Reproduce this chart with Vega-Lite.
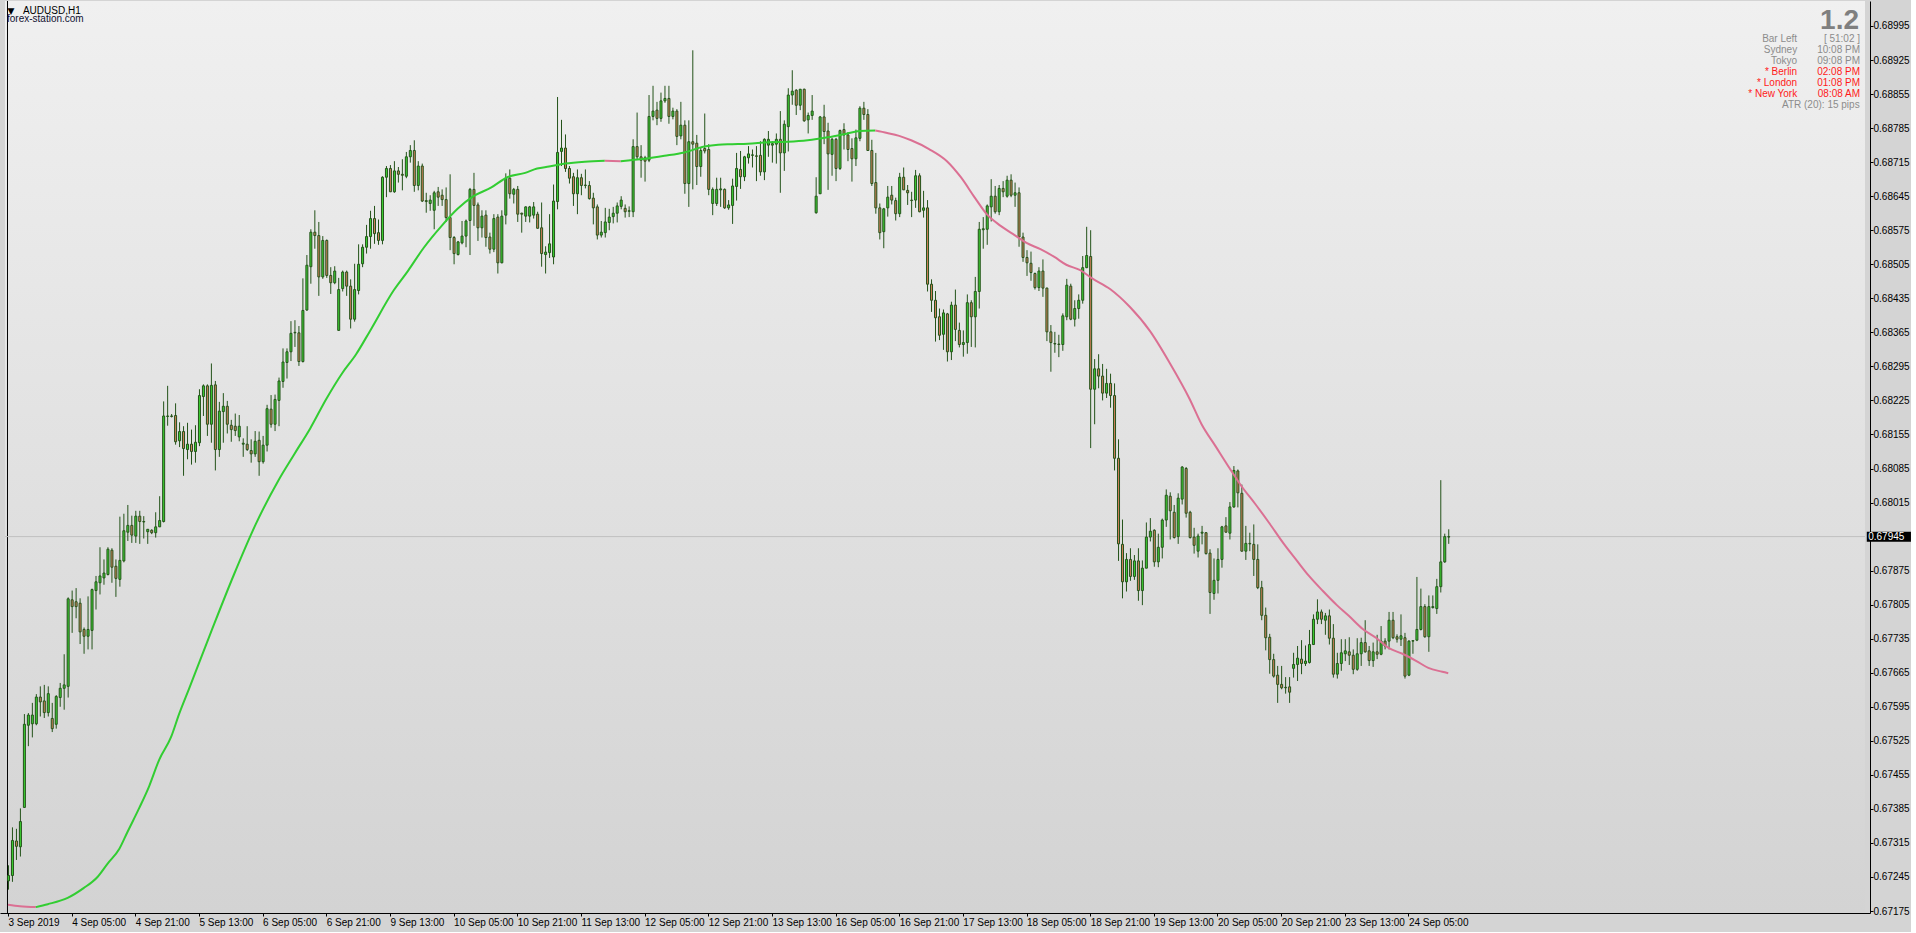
{
"$schema": "https://vega.github.io/schema/vega-lite/v6.json",
"width": 1870,
"height": 912,
"autosize": {"type": "pad"},
"padding": {"left": 0, "top": 0, "right": 0, "bottom": 5},
"background": "#d4d4d4",
"config": {"view": {"stroke": null}, "axis": {"labelOverlap": false, "labelFlush": false}},
"data": {"values": [{}]},
"datasets": {
"candles": [
{"i":0,"o":0.67237,"h":0.67269,"l":0.67219,"c":0.67248},
{"i":1,"o":0.67248,"h":0.67347,"l":0.67235,"c":0.67320},
{"i":2,"o":0.67319,"h":0.67344,"l":0.67280,"c":0.67308},
{"i":3,"o":0.67307,"h":0.67386,"l":0.67287,"c":0.67359},
{"i":4,"o":0.67388,"h":0.67580,"l":0.67388,"c":0.67559},
{"i":5,"o":0.67557,"h":0.67582,"l":0.67514,"c":0.67578},
{"i":6,"o":0.67560,"h":0.67603,"l":0.67532,"c":0.67578},
{"i":7,"o":0.67560,"h":0.67621,"l":0.67557,"c":0.67615},
{"i":8,"o":0.67615,"h":0.67637,"l":0.67575,"c":0.67605},
{"i":9,"o":0.67607,"h":0.67640,"l":0.67572,"c":0.67583},
{"i":10,"o":0.67583,"h":0.67637,"l":0.67575,"c":0.67622},
{"i":11,"o":0.67571,"h":0.67603,"l":0.67543,"c":0.67550},
{"i":12,"o":0.67559,"h":0.67619,"l":0.67550,"c":0.67616},
{"i":13,"o":0.67614,"h":0.67644,"l":0.67595,"c":0.67633},
{"i":14,"o":0.67633,"h":0.67703,"l":0.67589,"c":0.67640},
{"i":15,"o":0.67637,"h":0.67820,"l":0.67614,"c":0.67817},
{"i":16,"o":0.67815,"h":0.67834,"l":0.67747,"c":0.67801},
{"i":17,"o":0.67811,"h":0.67839,"l":0.67777,"c":0.67801},
{"i":18,"o":0.67808,"h":0.67818,"l":0.67724,"c":0.67749},
{"i":19,"o":0.67754,"h":0.67758,"l":0.67704,"c":0.67740},
{"i":20,"o":0.67740,"h":0.67822,"l":0.67713,"c":0.67754},
{"i":21,"o":0.67752,"h":0.67838,"l":0.67713,"c":0.67836},
{"i":22,"o":0.67834,"h":0.67864,"l":0.67795,"c":0.67852},
{"i":23,"o":0.67850,"h":0.67923,"l":0.67826,"c":0.67864},
{"i":24,"o":0.67860,"h":0.67898,"l":0.67846,"c":0.67870},
{"i":25,"o":0.67867,"h":0.67923,"l":0.67865,"c":0.67919},
{"i":26,"o":0.67917,"h":0.67921,"l":0.67850,"c":0.67882},
{"i":27,"o":0.67884,"h":0.67898,"l":0.67821,"c":0.67859},
{"i":28,"o":0.67857,"h":0.67986,"l":0.67842,"c":0.67896},
{"i":29,"o":0.67895,"h":0.67992,"l":0.67892,"c":0.67957},
{"i":30,"o":0.67954,"h":0.68010,"l":0.67936,"c":0.67968},
{"i":31,"o":0.67968,"h":0.67988,"l":0.67932,"c":0.67948},
{"i":32,"o":0.67946,"h":0.67998,"l":0.67932,"c":0.67987},
{"i":33,"o":0.67987,"h":0.67998,"l":0.67930,"c":0.67976},
{"i":34,"o":0.67975,"h":0.67987,"l":0.67941,"c":0.67976},
{"i":35,"o":0.67955,"h":0.67960,"l":0.67930,"c":0.67960},
{"i":36,"o":0.67958,"h":0.67960,"l":0.67950,"c":0.67953},
{"i":37,"o":0.67953,"h":0.67995,"l":0.67943,"c":0.67965},
{"i":38,"o":0.67965,"h":0.68028,"l":0.67965,"c":0.67978},
{"i":39,"o":0.67976,"h":0.68223,"l":0.67974,"c":0.68193},
{"i":40,"o":0.68192,"h":0.68255,"l":0.68173,"c":0.68193},
{"i":41,"o":0.68193,"h":0.68197,"l":0.68190,"c":0.68192},
{"i":42,"o":0.68194,"h":0.68219,"l":0.68134,"c":0.68140},
{"i":43,"o":0.68142,"h":0.68180,"l":0.68129,"c":0.68161},
{"i":44,"o":0.68161,"h":0.68172,"l":0.68070,"c":0.68126},
{"i":45,"o":0.68124,"h":0.68179,"l":0.68104,"c":0.68135},
{"i":46,"o":0.68135,"h":0.68165,"l":0.68093,"c":0.68120},
{"i":47,"o":0.68120,"h":0.68174,"l":0.68097,"c":0.68139},
{"i":48,"o":0.68138,"h":0.68248,"l":0.68131,"c":0.68235},
{"i":49,"o":0.68233,"h":0.68258,"l":0.68193,"c":0.68255},
{"i":50,"o":0.68255,"h":0.68258,"l":0.68152,"c":0.68176},
{"i":51,"o":0.68176,"h":0.68301,"l":0.68138,"c":0.68256},
{"i":52,"o":0.68257,"h":0.68265,"l":0.68081,"c":0.68124},
{"i":53,"o":0.68124,"h":0.68222,"l":0.68109,"c":0.68203},
{"i":54,"o":0.68202,"h":0.68240,"l":0.68138,"c":0.68213},
{"i":55,"o":0.68213,"h":0.68224,"l":0.68157,"c":0.68176},
{"i":56,"o":0.68174,"h":0.68185,"l":0.68140,"c":0.68165},
{"i":57,"o":0.68172,"h":0.68198,"l":0.68152,"c":0.68163},
{"i":58,"o":0.68150,"h":0.68195,"l":0.68141,"c":0.68172},
{"i":59,"o":0.68135,"h":0.68147,"l":0.68109,"c":0.68137},
{"i":60,"o":0.68135,"h":0.68172,"l":0.68121,"c":0.68124},
{"i":61,"o":0.68122,"h":0.68145,"l":0.68097,"c":0.68115},
{"i":62,"o":0.68115,"h":0.68162,"l":0.68109,"c":0.68141},
{"i":63,"o":0.68143,"h":0.68161,"l":0.68070,"c":0.68099},
{"i":64,"o":0.68099,"h":0.68152,"l":0.68095,"c":0.68133},
{"i":65,"o":0.68133,"h":0.68216,"l":0.68120,"c":0.68208},
{"i":66,"o":0.68207,"h":0.68236,"l":0.68169,"c":0.68176},
{"i":67,"o":0.68176,"h":0.68237,"l":0.68162,"c":0.68227},
{"i":68,"o":0.68225,"h":0.68272,"l":0.68172,"c":0.68265},
{"i":69,"o":0.68264,"h":0.68332,"l":0.68251,"c":0.68304},
{"i":70,"o":0.68303,"h":0.68332,"l":0.68270,"c":0.68325},
{"i":71,"o":0.68325,"h":0.68388,"l":0.68306,"c":0.68363},
{"i":72,"o":0.68364,"h":0.68390,"l":0.68335,"c":0.68365},
{"i":73,"o":0.68364,"h":0.68378,"l":0.68296,"c":0.68305},
{"i":74,"o":0.68305,"h":0.68476,"l":0.68303,"c":0.68410},
{"i":75,"o":0.68411,"h":0.68524,"l":0.68409,"c":0.68503},
{"i":76,"o":0.68500,"h":0.68577,"l":0.68465,"c":0.68571},
{"i":77,"o":0.68571,"h":0.68616,"l":0.68537,"c":0.68564},
{"i":78,"o":0.68564,"h":0.68592,"l":0.68440,"c":0.68479},
{"i":79,"o":0.68479,"h":0.68563,"l":0.68475,"c":0.68554},
{"i":80,"o":0.68554,"h":0.68556,"l":0.68477,"c":0.68482},
{"i":81,"o":0.68482,"h":0.68499,"l":0.68444,"c":0.68467},
{"i":82,"o":0.68467,"h":0.68501,"l":0.68464,"c":0.68491},
{"i":83,"o":0.68369,"h":0.68477,"l":0.68369,"c":0.68453},
{"i":84,"o":0.68455,"h":0.68492,"l":0.68449,"c":0.68489},
{"i":85,"o":0.68489,"h":0.68492,"l":0.68440,"c":0.68460},
{"i":86,"o":0.68460,"h":0.68474,"l":0.68373,"c":0.68392},
{"i":87,"o":0.68392,"h":0.68506,"l":0.68387,"c":0.68453},
{"i":88,"o":0.68451,"h":0.68546,"l":0.68443,"c":0.68505},
{"i":89,"o":0.68506,"h":0.68546,"l":0.68499,"c":0.68540},
{"i":90,"o":0.68540,"h":0.68586,"l":0.68527,"c":0.68562},
{"i":91,"o":0.68562,"h":0.68615,"l":0.68537,"c":0.68599},
{"i":92,"o":0.68599,"h":0.68625,"l":0.68547,"c":0.68568},
{"i":93,"o":0.68570,"h":0.68597,"l":0.68545,"c":0.68554},
{"i":94,"o":0.68554,"h":0.68686,"l":0.68546,"c":0.68684},
{"i":95,"o":0.68684,"h":0.68707,"l":0.68643,"c":0.68702},
{"i":96,"o":0.68702,"h":0.68709,"l":0.68654,"c":0.68654},
{"i":97,"o":0.68654,"h":0.68717,"l":0.68652,"c":0.68697},
{"i":98,"o":0.68697,"h":0.68705,"l":0.68673,"c":0.68690},
{"i":99,"o":0.68690,"h":0.68721,"l":0.68657,"c":0.68688},
{"i":100,"o":0.68686,"h":0.68736,"l":0.68682,"c":0.68726},
{"i":101,"o":0.68726,"h":0.68750,"l":0.68714,"c":0.68739},
{"i":102,"o":0.68739,"h":0.68760,"l":0.68654,"c":0.68667},
{"i":103,"o":0.68667,"h":0.68717,"l":0.68657,"c":0.68707},
{"i":104,"o":0.68707,"h":0.68712,"l":0.68633,"c":0.68635},
{"i":105,"o":0.68636,"h":0.68652,"l":0.68611,"c":0.68634},
{"i":106,"o":0.68630,"h":0.68647,"l":0.68615,"c":0.68637},
{"i":107,"o":0.68616,"h":0.68656,"l":0.68577,"c":0.68652},
{"i":108,"o":0.68654,"h":0.68664,"l":0.68625,"c":0.68643},
{"i":109,"o":0.68647,"h":0.68659,"l":0.68625,"c":0.68638},
{"i":110,"o":0.68638,"h":0.68663,"l":0.68592,"c":0.68601},
{"i":111,"o":0.68601,"h":0.68690,"l":0.68534,"c":0.68560},
{"i":112,"o":0.68560,"h":0.68563,"l":0.68505,"c":0.68527},
{"i":113,"o":0.68525,"h":0.68553,"l":0.68523,"c":0.68551},
{"i":114,"o":0.68549,"h":0.68594,"l":0.68546,"c":0.68563},
{"i":115,"o":0.68563,"h":0.68597,"l":0.68540,"c":0.68594},
{"i":116,"o":0.68595,"h":0.68662,"l":0.68524,"c":0.68659},
{"i":117,"o":0.68659,"h":0.68693,"l":0.68584,"c":0.68626},
{"i":118,"o":0.68627,"h":0.68632,"l":0.68553,"c":0.68580},
{"i":119,"o":0.68580,"h":0.68616,"l":0.68560,"c":0.68604},
{"i":120,"o":0.68606,"h":0.68616,"l":0.68541,"c":0.68560},
{"i":121,"o":0.68561,"h":0.68570,"l":0.68527,"c":0.68536},
{"i":122,"o":0.68536,"h":0.68608,"l":0.68530,"c":0.68599},
{"i":123,"o":0.68602,"h":0.68608,"l":0.68486,"c":0.68508},
{"i":124,"o":0.68508,"h":0.68616,"l":0.68507,"c":0.68604},
{"i":125,"o":0.68606,"h":0.68692,"l":0.68587,"c":0.68682},
{"i":126,"o":0.68682,"h":0.68700,"l":0.68640,"c":0.68650},
{"i":127,"o":0.68649,"h":0.68662,"l":0.68630,"c":0.68659},
{"i":128,"o":0.68659,"h":0.68666,"l":0.68592,"c":0.68608},
{"i":129,"o":0.68610,"h":0.68611,"l":0.68570,"c":0.68608},
{"i":130,"o":0.68604,"h":0.68624,"l":0.68592,"c":0.68623},
{"i":131,"o":0.68604,"h":0.68625,"l":0.68591,"c":0.68623},
{"i":132,"o":0.68606,"h":0.68633,"l":0.68599,"c":0.68623},
{"i":133,"o":0.68608,"h":0.68613,"l":0.68579,"c":0.68579},
{"i":134,"o":0.68580,"h":0.68632,"l":0.68500,"c":0.68527},
{"i":135,"o":0.68525,"h":0.68542,"l":0.68486,"c":0.68530},
{"i":136,"o":0.68529,"h":0.68608,"l":0.68518,"c":0.68547},
{"i":137,"o":0.68520,"h":0.68669,"l":0.68505,"c":0.68635},
{"i":138,"o":0.68634,"h":0.68849,"l":0.68618,"c":0.68735},
{"i":139,"o":0.68737,"h":0.68802,"l":0.68707,"c":0.68744},
{"i":140,"o":0.68744,"h":0.68772,"l":0.68695,"c":0.68702},
{"i":141,"o":0.68702,"h":0.68707,"l":0.68671,"c":0.68682},
{"i":142,"o":0.68685,"h":0.68693,"l":0.68625,"c":0.68650},
{"i":143,"o":0.68650,"h":0.68700,"l":0.68608,"c":0.68683},
{"i":144,"o":0.68683,"h":0.68691,"l":0.68647,"c":0.68667},
{"i":145,"o":0.68668,"h":0.68700,"l":0.68661,"c":0.68667},
{"i":146,"o":0.68667,"h":0.68676,"l":0.68638,"c":0.68640},
{"i":147,"o":0.68641,"h":0.68652,"l":0.68587,"c":0.68621},
{"i":148,"o":0.68623,"h":0.68628,"l":0.68556,"c":0.68565},
{"i":149,"o":0.68565,"h":0.68594,"l":0.68560,"c":0.68571},
{"i":150,"o":0.68570,"h":0.68621,"l":0.68560,"c":0.68592},
{"i":151,"o":0.68591,"h":0.68619,"l":0.68575,"c":0.68602},
{"i":152,"o":0.68603,"h":0.68623,"l":0.68589,"c":0.68610},
{"i":153,"o":0.68610,"h":0.68632,"l":0.68591,"c":0.68625},
{"i":154,"o":0.68624,"h":0.68645,"l":0.68618,"c":0.68637},
{"i":155,"o":0.68620,"h":0.68628,"l":0.68601,"c":0.68613},
{"i":156,"o":0.68614,"h":0.68624,"l":0.68602,"c":0.68615},
{"i":157,"o":0.68613,"h":0.68762,"l":0.68602,"c":0.68747},
{"i":158,"o":0.68747,"h":0.68817,"l":0.68721,"c":0.68726},
{"i":159,"o":0.68726,"h":0.68750,"l":0.68683,"c":0.68719},
{"i":160,"o":0.68724,"h":0.68728,"l":0.68675,"c":0.68717},
{"i":161,"o":0.68719,"h":0.68853,"l":0.68715,"c":0.68809},
{"i":162,"o":0.68809,"h":0.68872,"l":0.68801,"c":0.68820},
{"i":163,"o":0.68822,"h":0.68839,"l":0.68791,"c":0.68805},
{"i":164,"o":0.68805,"h":0.68858,"l":0.68798,"c":0.68841},
{"i":165,"o":0.68841,"h":0.68872,"l":0.68837,"c":0.68846},
{"i":166,"o":0.68846,"h":0.68872,"l":0.68794,"c":0.68809},
{"i":167,"o":0.68809,"h":0.68827,"l":0.68803,"c":0.68820},
{"i":168,"o":0.68820,"h":0.68824,"l":0.68750,"c":0.68768},
{"i":169,"o":0.68769,"h":0.68839,"l":0.68762,"c":0.68791},
{"i":170,"o":0.68791,"h":0.68801,"l":0.68650,"c":0.68671},
{"i":171,"o":0.68671,"h":0.68801,"l":0.68623,"c":0.68757},
{"i":172,"o":0.68757,"h":0.68945,"l":0.68659,"c":0.68752},
{"i":173,"o":0.68754,"h":0.68771,"l":0.68668,"c":0.68706},
{"i":174,"o":0.68706,"h":0.68745,"l":0.68685,"c":0.68739},
{"i":175,"o":0.68743,"h":0.68815,"l":0.68733,"c":0.68738},
{"i":176,"o":0.68741,"h":0.68752,"l":0.68647,"c":0.68659},
{"i":177,"o":0.68630,"h":0.68663,"l":0.68606,"c":0.68659},
{"i":178,"o":0.68630,"h":0.68683,"l":0.68625,"c":0.68659},
{"i":179,"o":0.68658,"h":0.68683,"l":0.68623,"c":0.68660},
{"i":180,"o":0.68659,"h":0.68661,"l":0.68619,"c":0.68621},
{"i":181,"o":0.68621,"h":0.68637,"l":0.68617,"c":0.68627},
{"i":182,"o":0.68626,"h":0.68681,"l":0.68588,"c":0.68666},
{"i":183,"o":0.68665,"h":0.68734,"l":0.68636,"c":0.68702},
{"i":184,"o":0.68700,"h":0.68738,"l":0.68660,"c":0.68685},
{"i":185,"o":0.68685,"h":0.68728,"l":0.68676,"c":0.68726},
{"i":186,"o":0.68724,"h":0.68748,"l":0.68712,"c":0.68732},
{"i":187,"o":0.68729,"h":0.68741,"l":0.68704,"c":0.68730},
{"i":188,"o":0.68728,"h":0.68748,"l":0.68676,"c":0.68727},
{"i":189,"o":0.68729,"h":0.68758,"l":0.68687,"c":0.68695},
{"i":190,"o":0.68695,"h":0.68764,"l":0.68678,"c":0.68762},
{"i":191,"o":0.68750,"h":0.68779,"l":0.68726,"c":0.68762},
{"i":192,"o":0.68750,"h":0.68758,"l":0.68714,"c":0.68753},
{"i":193,"o":0.68752,"h":0.68774,"l":0.68712,"c":0.68762},
{"i":194,"o":0.68762,"h":0.68820,"l":0.68652,"c":0.68734},
{"i":195,"o":0.68734,"h":0.68801,"l":0.68697,"c":0.68793},
{"i":196,"o":0.68788,"h":0.68867,"l":0.68737,"c":0.68853},
{"i":197,"o":0.68853,"h":0.68904,"l":0.68833,"c":0.68861},
{"i":198,"o":0.68863,"h":0.68865,"l":0.68812,"c":0.68832},
{"i":199,"o":0.68832,"h":0.68865,"l":0.68822,"c":0.68865},
{"i":200,"o":0.68865,"h":0.68866,"l":0.68798,"c":0.68800},
{"i":201,"o":0.68802,"h":0.68817,"l":0.68774,"c":0.68811},
{"i":202,"o":0.68811,"h":0.68853,"l":0.68802,"c":0.68820},
{"i":203,"o":0.68611,"h":0.68684,"l":0.68609,"c":0.68645},
{"i":204,"o":0.68650,"h":0.68810,"l":0.68650,"c":0.68808},
{"i":205,"o":0.68808,"h":0.68833,"l":0.68752,"c":0.68778},
{"i":206,"o":0.68779,"h":0.68796,"l":0.68658,"c":0.68732},
{"i":207,"o":0.68731,"h":0.68765,"l":0.68687,"c":0.68762},
{"i":208,"o":0.68762,"h":0.68765,"l":0.68676,"c":0.68702},
{"i":209,"o":0.68702,"h":0.68782,"l":0.68699,"c":0.68780},
{"i":210,"o":0.68782,"h":0.68795,"l":0.68741,"c":0.68771},
{"i":211,"o":0.68771,"h":0.68777,"l":0.68717,"c":0.68741},
{"i":212,"o":0.68743,"h":0.68764,"l":0.68675,"c":0.68722},
{"i":213,"o":0.68722,"h":0.68782,"l":0.68707,"c":0.68765},
{"i":214,"o":0.68764,"h":0.68830,"l":0.68758,"c":0.68826},
{"i":215,"o":0.68826,"h":0.68839,"l":0.68802,"c":0.68813},
{"i":216,"o":0.68813,"h":0.68824,"l":0.68738,"c":0.68739},
{"i":217,"o":0.68739,"h":0.68761,"l":0.68666,"c":0.68671},
{"i":218,"o":0.68673,"h":0.68734,"l":0.68609,"c":0.68621},
{"i":219,"o":0.68621,"h":0.68630,"l":0.68556,"c":0.68570},
{"i":220,"o":0.68572,"h":0.68621,"l":0.68538,"c":0.68619},
{"i":221,"o":0.68621,"h":0.68666,"l":0.68603,"c":0.68643},
{"i":222,"o":0.68647,"h":0.68666,"l":0.68628,"c":0.68637},
{"i":223,"o":0.68636,"h":0.68642,"l":0.68595,"c":0.68609},
{"i":224,"o":0.68609,"h":0.68693,"l":0.68602,"c":0.68684},
{"i":225,"o":0.68684,"h":0.68704,"l":0.68658,"c":0.68658},
{"i":226,"o":0.68657,"h":0.68668,"l":0.68627,"c":0.68652},
{"i":227,"o":0.68637,"h":0.68654,"l":0.68602,"c":0.68636},
{"i":228,"o":0.68637,"h":0.68699,"l":0.68621,"c":0.68687},
{"i":229,"o":0.68687,"h":0.68692,"l":0.68612,"c":0.68613},
{"i":230,"o":0.68616,"h":0.68656,"l":0.68601,"c":0.68621},
{"i":231,"o":0.68621,"h":0.68637,"l":0.68449,"c":0.68464},
{"i":232,"o":0.68464,"h":0.68474,"l":0.68407,"c":0.68431},
{"i":233,"o":0.68431,"h":0.68450,"l":0.68346,"c":0.68395},
{"i":234,"o":0.68397,"h":0.68414,"l":0.68349,"c":0.68359},
{"i":235,"o":0.68361,"h":0.68412,"l":0.68329,"c":0.68405},
{"i":236,"o":0.68403,"h":0.68405,"l":0.68305,"c":0.68325},
{"i":237,"o":0.68325,"h":0.68428,"l":0.68308,"c":0.68421},
{"i":238,"o":0.68421,"h":0.68453,"l":0.68347,"c":0.68371},
{"i":239,"o":0.68369,"h":0.68385,"l":0.68334,"c":0.68340},
{"i":240,"o":0.68340,"h":0.68369,"l":0.68315,"c":0.68344},
{"i":241,"o":0.68344,"h":0.68443,"l":0.68321,"c":0.68426},
{"i":242,"o":0.68426,"h":0.68431,"l":0.68335,"c":0.68397},
{"i":243,"o":0.68397,"h":0.68479,"l":0.68334,"c":0.68449},
{"i":244,"o":0.68449,"h":0.68592,"l":0.68414,"c":0.68577},
{"i":245,"o":0.68576,"h":0.68602,"l":0.68537,"c":0.68578},
{"i":246,"o":0.68577,"h":0.68628,"l":0.68545,"c":0.68625},
{"i":247,"o":0.68623,"h":0.68680,"l":0.68593,"c":0.68645},
{"i":248,"o":0.68645,"h":0.68666,"l":0.68609,"c":0.68613},
{"i":249,"o":0.68613,"h":0.68668,"l":0.68606,"c":0.68661},
{"i":250,"o":0.68661,"h":0.68676,"l":0.68643,"c":0.68654},
{"i":251,"o":0.68645,"h":0.68687,"l":0.68642,"c":0.68678},
{"i":252,"o":0.68678,"h":0.68690,"l":0.68643,"c":0.68647},
{"i":253,"o":0.68647,"h":0.68673,"l":0.68623,"c":0.68652},
{"i":254,"o":0.68652,"h":0.68663,"l":0.68541,"c":0.68561},
{"i":255,"o":0.68561,"h":0.68570,"l":0.68510,"c":0.68519},
{"i":256,"o":0.68519,"h":0.68534,"l":0.68481,"c":0.68508},
{"i":257,"o":0.68507,"h":0.68531,"l":0.68471,"c":0.68488},
{"i":258,"o":0.68486,"h":0.68488,"l":0.68453,"c":0.68457},
{"i":259,"o":0.68457,"h":0.68499,"l":0.68450,"c":0.68491},
{"i":260,"o":0.68491,"h":0.68515,"l":0.68438,"c":0.68456},
{"i":261,"o":0.68456,"h":0.68457,"l":0.68347,"c":0.68366},
{"i":262,"o":0.68366,"h":0.68380,"l":0.68284,"c":0.68344},
{"i":263,"o":0.68342,"h":0.68366,"l":0.68323,"c":0.68341},
{"i":264,"o":0.68341,"h":0.68360,"l":0.68314,"c":0.68340},
{"i":265,"o":0.68340,"h":0.68404,"l":0.68327,"c":0.68399},
{"i":266,"o":0.68397,"h":0.68475,"l":0.68390,"c":0.68462},
{"i":267,"o":0.68460,"h":0.68465,"l":0.68390,"c":0.68392},
{"i":268,"o":0.68392,"h":0.68431,"l":0.68377,"c":0.68414},
{"i":269,"o":0.68414,"h":0.68443,"l":0.68393,"c":0.68431},
{"i":270,"o":0.68431,"h":0.68522,"l":0.68424,"c":0.68498},
{"i":271,"o":0.68498,"h":0.68582,"l":0.68497,"c":0.68523},
{"i":272,"o":0.68521,"h":0.68575,"l":0.68127,"c":0.68248},
{"i":273,"o":0.68248,"h":0.68310,"l":0.68176,"c":0.68290},
{"i":274,"o":0.68290,"h":0.68320,"l":0.68250,"c":0.68275},
{"i":275,"o":0.68275,"h":0.68300,"l":0.68225,"c":0.68240},
{"i":276,"o":0.68240,"h":0.68290,"l":0.68230,"c":0.68260},
{"i":277,"o":0.68260,"h":0.68280,"l":0.68210,"c":0.68235},
{"i":278,"o":0.68235,"h":0.68260,"l":0.68081,"c":0.68106},
{"i":279,"o":0.68106,"h":0.68145,"l":0.67895,"c":0.67930},
{"i":280,"o":0.67929,"h":0.67980,"l":0.67818,"c":0.67852},
{"i":281,"o":0.67852,"h":0.67911,"l":0.67832,"c":0.67898},
{"i":282,"o":0.67898,"h":0.67921,"l":0.67854,"c":0.67863},
{"i":283,"o":0.67863,"h":0.67907,"l":0.67856,"c":0.67895},
{"i":284,"o":0.67895,"h":0.67921,"l":0.67813,"c":0.67834},
{"i":285,"o":0.67834,"h":0.67896,"l":0.67804,"c":0.67880},
{"i":286,"o":0.67880,"h":0.67974,"l":0.67880,"c":0.67944},
{"i":287,"o":0.67944,"h":0.67983,"l":0.67935,"c":0.67956},
{"i":288,"o":0.67958,"h":0.67960,"l":0.67883,"c":0.67893},
{"i":289,"o":0.67893,"h":0.67951,"l":0.67882,"c":0.67923},
{"i":290,"o":0.67923,"h":0.67982,"l":0.67900,"c":0.67979},
{"i":291,"o":0.67979,"h":0.68042,"l":0.67965,"c":0.68030},
{"i":292,"o":0.68028,"h":0.68036,"l":0.67939,"c":0.67998},
{"i":293,"o":0.67995,"h":0.68010,"l":0.67941,"c":0.67943},
{"i":294,"o":0.67945,"h":0.68034,"l":0.67930,"c":0.68024},
{"i":295,"o":0.68022,"h":0.68090,"l":0.68011,"c":0.68088},
{"i":296,"o":0.68085,"h":0.68088,"l":0.67984,"c":0.67993},
{"i":297,"o":0.67995,"h":0.67998,"l":0.67941,"c":0.67943},
{"i":298,"o":0.67944,"h":0.67963,"l":0.67910,"c":0.67927},
{"i":299,"o":0.67915,"h":0.67951,"l":0.67902,"c":0.67946},
{"i":300,"o":0.67952,"h":0.67967,"l":0.67929,"c":0.67954},
{"i":301,"o":0.67953,"h":0.67954,"l":0.67908,"c":0.67910},
{"i":302,"o":0.67911,"h":0.67919,"l":0.67786,"c":0.67830},
{"i":303,"o":0.67828,"h":0.67900,"l":0.67815,"c":0.67855},
{"i":304,"o":0.67855,"h":0.67921,"l":0.67828,"c":0.67898},
{"i":305,"o":0.67898,"h":0.67967,"l":0.67881,"c":0.67965},
{"i":306,"o":0.67967,"h":0.67985,"l":0.67953,"c":0.67954},
{"i":307,"o":0.67952,"h":0.68016,"l":0.67939,"c":0.68006},
{"i":308,"o":0.68006,"h":0.68090,"l":0.68004,"c":0.68081},
{"i":309,"o":0.68080,"h":0.68083,"l":0.68005,"c":0.68035},
{"i":310,"o":0.68034,"h":0.68052,"l":0.67914,"c":0.67915},
{"i":311,"o":0.67915,"h":0.67967,"l":0.67897,"c":0.67931},
{"i":312,"o":0.67931,"h":0.67953,"l":0.67915,"c":0.67930},
{"i":313,"o":0.67929,"h":0.67970,"l":0.67864,"c":0.67898},
{"i":314,"o":0.67898,"h":0.67929,"l":0.67837,"c":0.67840},
{"i":315,"o":0.67840,"h":0.67854,"l":0.67773,"c":0.67783},
{"i":316,"o":0.67783,"h":0.67799,"l":0.67711,"c":0.67737},
{"i":317,"o":0.67738,"h":0.67745,"l":0.67663,"c":0.67692},
{"i":318,"o":0.67692,"h":0.67704,"l":0.67655,"c":0.67658},
{"i":319,"o":0.67660,"h":0.67679,"l":0.67603,"c":0.67641},
{"i":320,"o":0.67641,"h":0.67679,"l":0.67631,"c":0.67634},
{"i":321,"o":0.67635,"h":0.67656,"l":0.67622,"c":0.67634},
{"i":322,"o":0.67636,"h":0.67656,"l":0.67603,"c":0.67625},
{"i":323,"o":0.67674,"h":0.67706,"l":0.67655,"c":0.67682},
{"i":324,"o":0.67682,"h":0.67720,"l":0.67648,"c":0.67695},
{"i":325,"o":0.67693,"h":0.67732,"l":0.67662,"c":0.67684},
{"i":326,"o":0.67684,"h":0.67721,"l":0.67679,"c":0.67689},
{"i":327,"o":0.67686,"h":0.67753,"l":0.67684,"c":0.67723},
{"i":328,"o":0.67723,"h":0.67785,"l":0.67722,"c":0.67775},
{"i":329,"o":0.67775,"h":0.67816,"l":0.67765,"c":0.67790},
{"i":330,"o":0.67790,"h":0.67795,"l":0.67765,"c":0.67775},
{"i":331,"o":0.67773,"h":0.67788,"l":0.67743,"c":0.67782},
{"i":332,"o":0.67782,"h":0.67795,"l":0.67723,"c":0.67736},
{"i":333,"o":0.67736,"h":0.67765,"l":0.67655,"c":0.67662},
{"i":334,"o":0.67662,"h":0.67706,"l":0.67653,"c":0.67684},
{"i":335,"o":0.67684,"h":0.67734,"l":0.67669,"c":0.67706},
{"i":336,"o":0.67704,"h":0.67734,"l":0.67689,"c":0.67710},
{"i":337,"o":0.67708,"h":0.67738,"l":0.67681,"c":0.67701},
{"i":338,"o":0.67701,"h":0.67713,"l":0.67662,"c":0.67672},
{"i":339,"o":0.67672,"h":0.67736,"l":0.67669,"c":0.67704},
{"i":340,"o":0.67704,"h":0.67737,"l":0.67679,"c":0.67727},
{"i":341,"o":0.67727,"h":0.67773,"l":0.67706,"c":0.67708},
{"i":342,"o":0.67710,"h":0.67720,"l":0.67679,"c":0.67690},
{"i":343,"o":0.67690,"h":0.67727,"l":0.67677,"c":0.67708},
{"i":344,"o":0.67708,"h":0.67743,"l":0.67693,"c":0.67703},
{"i":345,"o":0.67703,"h":0.67761,"l":0.67701,"c":0.67730},
{"i":346,"o":0.67730,"h":0.67736,"l":0.67713,"c":0.67720},
{"i":347,"o":0.67730,"h":0.67790,"l":0.67713,"c":0.67773},
{"i":348,"o":0.67773,"h":0.67790,"l":0.67734,"c":0.67737},
{"i":349,"o":0.67739,"h":0.67744,"l":0.67727,"c":0.67734},
{"i":350,"o":0.67734,"h":0.67785,"l":0.67720,"c":0.67741},
{"i":351,"o":0.67737,"h":0.67747,"l":0.67653,"c":0.67658},
{"i":352,"o":0.67660,"h":0.67732,"l":0.67658,"c":0.67730},
{"i":353,"o":0.67730,"h":0.67732,"l":0.67704,"c":0.67731},
{"i":354,"o":0.67732,"h":0.67862,"l":0.67730,"c":0.67754},
{"i":355,"o":0.67754,"h":0.67838,"l":0.67752,"c":0.67801},
{"i":356,"o":0.67801,"h":0.67806,"l":0.67737,"c":0.67739},
{"i":357,"o":0.67739,"h":0.67824,"l":0.67708,"c":0.67801},
{"i":358,"o":0.67799,"h":0.67824,"l":0.67797,"c":0.67801},
{"i":359,"o":0.67797,"h":0.67858,"l":0.67786,"c":0.67842},
{"i":360,"o":0.67842,"h":0.68061,"l":0.67830,"c":0.67893},
{"i":361,"o":0.67893,"h":0.67951,"l":0.67891,"c":0.67945},
{"i":362,"o":0.67944,"h":0.67960,"l":0.67930,"c":0.67945}
],
"ma": [
{"i":0,"p":0.67188,"s":1,"d":"dn"},{"i":3,"p":0.67185,"s":1,"d":"dn"},{"i":7,"p":0.67183,"s":1,"d":"dn"},
{"i":7,"p":0.67183,"s":2,"d":"up"},{"i":10,"p":0.67189,"s":2,"d":"up"},{"i":15,"p":0.67202,"s":2,"d":"up"},{"i":19,"p":0.67222,"s":2,"d":"up"},{"i":22.5,"p":0.67245,"s":2,"d":"up"},{"i":25,"p":0.67272,"s":2,"d":"up"},{"i":28,"p":0.67303,"s":2,"d":"up"},{"i":30,"p":0.67337,"s":2,"d":"up"},{"i":33,"p":0.67387,"s":2,"d":"up"},{"i":35.5,"p":0.67432,"s":2,"d":"up"},{"i":38,"p":0.67486,"s":2,"d":"up"},{"i":41,"p":0.67533,"s":2,"d":"up"},{"i":43,"p":0.67580,"s":2,"d":"up"},{"i":45.5,"p":0.67632,"s":2,"d":"up"},{"i":51,"p":0.67748,"s":2,"d":"up"},{"i":56.75,"p":0.67866,"s":2,"d":"up"},{"i":62.25,"p":0.67970,"s":2,"d":"up"},{"i":68,"p":0.68061,"s":2,"d":"up"},{"i":72,"p":0.68115,"s":2,"d":"up"},{"i":76,"p":0.68168,"s":2,"d":"up"},{"i":80,"p":0.68228,"s":2,"d":"up"},{"i":84,"p":0.68281,"s":2,"d":"up"},{"i":87.5,"p":0.68320,"s":2,"d":"up"},{"i":91,"p":0.68368,"s":2,"d":"up"},{"i":97,"p":0.68452,"s":2,"d":"up"},{"i":100.5,"p":0.68491,"s":2,"d":"up"},{"i":104.5,"p":0.68539,"s":2,"d":"up"},{"i":109,"p":0.68584,"s":2,"d":"up"},{"i":113,"p":0.68619,"s":2,"d":"up"},{"i":117,"p":0.68645,"s":2,"d":"up"},{"i":121.5,"p":0.68663,"s":2,"d":"up"},{"i":125.5,"p":0.68684,"s":2,"d":"up"},{"i":130,"p":0.68693,"s":2,"d":"up"},{"i":133,"p":0.68702,"s":2,"d":"up"},{"i":136,"p":0.68706,"s":2,"d":"up"},{"i":140,"p":0.68712,"s":2,"d":"up"},{"i":145,"p":0.68716,"s":2,"d":"up"},{"i":150,"p":0.68718,"s":2,"d":"up"},
{"i":150,"p":0.68718,"s":3,"d":"dn"},{"i":154,"p":0.68717,"s":3,"d":"dn"},
{"i":154,"p":0.68717,"s":4,"d":"up"},{"i":160,"p":0.68722,"s":4,"d":"up"},{"i":165,"p":0.68728,"s":4,"d":"up"},{"i":170,"p":0.68735,"s":4,"d":"up"},{"i":175,"p":0.68747,"s":4,"d":"up"},{"i":178.5,"p":0.68751,"s":4,"d":"up"},{"i":182,"p":0.68752,"s":4,"d":"up"},{"i":186,"p":0.68753,"s":4,"d":"up"},{"i":191,"p":0.68756,"s":4,"d":"up"},{"i":196,"p":0.68757,"s":4,"d":"up"},{"i":201,"p":0.68760,"s":4,"d":"up"},{"i":206,"p":0.68766,"s":4,"d":"up"},{"i":211,"p":0.68774,"s":4,"d":"up"},{"i":214,"p":0.68779,"s":4,"d":"up"},{"i":218,"p":0.68780,"s":4,"d":"up"},
{"i":218,"p":0.68780,"s":5,"d":"dn"},{"i":221,"p":0.68775,"s":5,"d":"dn"},{"i":224,"p":0.68769,"s":5,"d":"dn"},{"i":227,"p":0.68760,"s":5,"d":"dn"},{"i":231.5,"p":0.68742,"s":5,"d":"dn"},{"i":236,"p":0.68717,"s":5,"d":"dn"},{"i":239.5,"p":0.68684,"s":5,"d":"dn"},{"i":243,"p":0.68642,"s":5,"d":"dn"},{"i":246,"p":0.68608,"s":5,"d":"dn"},{"i":249.5,"p":0.68584,"s":5,"d":"dn"},{"i":253,"p":0.68565,"s":5,"d":"dn"},{"i":256,"p":0.68549,"s":5,"d":"dn"},{"i":259.5,"p":0.68536,"s":5,"d":"dn"},{"i":263,"p":0.68520,"s":5,"d":"dn"},{"i":266,"p":0.68504,"s":5,"d":"dn"},{"i":269.5,"p":0.68493,"s":5,"d":"dn"},{"i":272.5,"p":0.68476,"s":5,"d":"dn"},{"i":277,"p":0.68454,"s":5,"d":"dn"},{"i":282,"p":0.68417,"s":5,"d":"dn"},{"i":287,"p":0.68368,"s":5,"d":"dn"},{"i":292,"p":0.68302,"s":5,"d":"dn"},{"i":297,"p":0.68228,"s":5,"d":"dn"},{"i":300,"p":0.68176,"s":5,"d":"dn"},{"i":303.5,"p":0.68131,"s":5,"d":"dn"},{"i":307,"p":0.68086,"s":5,"d":"dn"},{"i":310,"p":0.68049,"s":5,"d":"dn"},{"i":313.5,"p":0.68012,"s":5,"d":"dn"},{"i":317,"p":0.67973,"s":5,"d":"dn"},{"i":320.5,"p":0.67932,"s":5,"d":"dn"},{"i":324,"p":0.67895,"s":5,"d":"dn"},{"i":327,"p":0.67864,"s":5,"d":"dn"},{"i":330.5,"p":0.67833,"s":5,"d":"dn"},{"i":334,"p":0.67804,"s":5,"d":"dn"},{"i":337,"p":0.67782,"s":5,"d":"dn"},{"i":340.5,"p":0.67755,"s":5,"d":"dn"},{"i":344,"p":0.67736,"s":5,"d":"dn"},{"i":347,"p":0.67716,"s":5,"d":"dn"},{"i":350.5,"p":0.67704,"s":5,"d":"dn"},{"i":354,"p":0.67689,"s":5,"d":"dn"},{"i":357,"p":0.67675,"s":5,"d":"dn"},{"i":360.5,"p":0.67667,"s":5,"d":"dn"},{"i":362,"p":0.67664,"s":5,"d":"dn"}
]
},
"layer": [
{
"mark": {"type": "rect", "fill": {"gradient": "linear", "x1": 0, "y1": 0, "x2": 0, "y2": 1, "stops": [{"offset": 0, "color": "#f0f0f0"}, {"offset": 1, "color": "#d3d3d3"}]}},
"encoding": {"x": {"datum": -0.75}, "x2": {"datum": 466.75},
"y": {"datum": 0.690464, "axis": {"orient": "right", "title": null, "grid": false, "values": [0.67175,0.67245,0.67315,0.67385,0.67455,0.67525,0.67595,0.67665,0.67735,0.67805,0.67875,0.67945,0.68015,0.68085,0.68155,0.68225,0.68295,0.68365,0.68435,0.68505,0.68575,0.68645,0.68715,0.68785,0.68855,0.68925,0.68995], "labelExpr": "abs(datum.value-0.67945)<0.000001 ? '' : format(datum.value,'.5f')", "labelPadding": 0, "labelFont": "Liberation Sans", "labelFontSize": 10, "labelColor": "#000000", "labelOverlap": false, "labelFlush": false, "tickSize": 3, "tickColor": "#000000", "domainColor": "#000000", "domainWidth": 1}},
"y2": {"datum": 0.671709}}
},
{
"mark": {"type": "rule", "color": "#000000", "strokeWidth": 1},
"encoding": {"x": {"datum": -0.125},
"y": {"datum": 0.690464, "axis": {"orient": "right", "title": null, "grid": false, "values": [0.67175,0.67245,0.67315,0.67385,0.67455,0.67525,0.67595,0.67665,0.67735,0.67805,0.67875,0.67945,0.68015,0.68085,0.68155,0.68225,0.68295,0.68365,0.68435,0.68505,0.68575,0.68645,0.68715,0.68785,0.68855,0.68925,0.68995], "labelExpr": "abs(datum.value-0.67945)<0.000001 ? '' : format(datum.value,'.5f')", "labelPadding": 0, "labelFont": "Liberation Sans", "labelFontSize": 10, "labelColor": "#000000", "labelOverlap": false, "labelFlush": false, "tickSize": 3, "tickColor": "#000000", "domainColor": "#000000", "domainWidth": 1}},
"y2": {"datum": 0.671709}}
},
{
"mark": {"type": "rule", "color": "#c0c0c0", "strokeWidth": 1},
"encoding": {"x": {"datum": -0.75}, "x2": {"datum": 466.75},
"y": {"datum": 0.67945, "axis": {"orient": "right", "title": null, "grid": false, "values": [0.67175,0.67245,0.67315,0.67385,0.67455,0.67525,0.67595,0.67665,0.67735,0.67805,0.67875,0.67945,0.68015,0.68085,0.68155,0.68225,0.68295,0.68365,0.68435,0.68505,0.68575,0.68645,0.68715,0.68785,0.68855,0.68925,0.68995], "labelExpr": "abs(datum.value-0.67945)<0.000001 ? '' : format(datum.value,'.5f')", "labelPadding": 0, "labelFont": "Liberation Sans", "labelFontSize": 10, "labelColor": "#000000", "labelOverlap": false, "labelFlush": false, "tickSize": 3, "tickColor": "#000000", "domainColor": "#000000", "domainWidth": 1}}}
},
{
"data": {"name": "candles"},
"mark": {"type": "rule", "color": "#24531a", "strokeWidth": 1, "xOffset": 0.5},
"encoding": {
"x": {"field": "i", "type": "quantitative", "title": null,
"scale": {"domain": [-0.75, 466.75], "nice": false, "zero": false},
"axis": {"orient": "bottom", "title": null, "grid": false, "values": [0,16,32,48,64,80,96,112,128,144,160,176,192,208,224,240,256,272,288,304,320,336,352],
"labelExpr": "['3 Sep 2019','4 Sep 05:00','4 Sep 21:00','5 Sep 13:00','6 Sep 05:00','6 Sep 21:00','9 Sep 13:00','10 Sep 05:00','10 Sep 21:00','11 Sep 13:00','12 Sep 05:00','12 Sep 21:00','13 Sep 13:00','16 Sep 05:00','16 Sep 21:00','17 Sep 13:00','18 Sep 05:00','18 Sep 21:00','19 Sep 13:00','20 Sep 05:00','20 Sep 21:00','23 Sep 13:00','24 Sep 05:00'][round(datum.value/16)]",
"labelAlign": "left", "labelBaseline": "top", "labelPadding": 1, "labelFont": "Liberation Sans", "labelFontSize": 10, "labelColor": "#000000",
"labelOverlap": false, "labelFlush": false, "tickSize": 3, "tickColor": "#000000", "domainColor": "#000000", "domainWidth": 1}},
"y": {"field": "l", "type": "quantitative", "title": null,
"scale": {"domain": [0.671709, 0.690464], "nice": false, "zero": false},
"axis": {"orient": "right", "title": null, "grid": false, "values": [0.67175,0.67245,0.67315,0.67385,0.67455,0.67525,0.67595,0.67665,0.67735,0.67805,0.67875,0.67945,0.68015,0.68085,0.68155,0.68225,0.68295,0.68365,0.68435,0.68505,0.68575,0.68645,0.68715,0.68785,0.68855,0.68925,0.68995], "labelExpr": "abs(datum.value-0.67945)<0.000001 ? '' : format(datum.value,'.5f')", "labelPadding": 0, "labelFont": "Liberation Sans", "labelFontSize": 10, "labelColor": "#000000", "labelOverlap": false, "labelFlush": false, "tickSize": 3, "tickColor": "#000000", "domainColor": "#000000", "domainWidth": 1}},
"y2": {"field": "h"}
}
},
{
"data": {"name": "candles"},
"mark": {"type": "bar", "size": 2, "stroke": "#24531a", "strokeWidth": 1, "xOffset": 0.5},
"encoding": {
"x": {"field": "i", "type": "quantitative", "title": null},
"y": {"field": "o", "type": "quantitative", "title": null, "axis": {"orient": "right", "title": null, "grid": false, "values": [0.67175,0.67245,0.67315,0.67385,0.67455,0.67525,0.67595,0.67665,0.67735,0.67805,0.67875,0.67945,0.68015,0.68085,0.68155,0.68225,0.68295,0.68365,0.68435,0.68505,0.68575,0.68645,0.68715,0.68785,0.68855,0.68925,0.68995], "labelExpr": "abs(datum.value-0.67945)<0.000001 ? '' : format(datum.value,'.5f')", "labelPadding": 0, "labelFont": "Liberation Sans", "labelFontSize": 10, "labelColor": "#000000", "labelOverlap": false, "labelFlush": false, "tickSize": 3, "tickColor": "#000000", "domainColor": "#000000", "domainWidth": 1}},
"y2": {"field": "c"},
"fill": {"condition": {"test": "datum.c >= datum.o", "value": "#3ccf32"}, "value": "#cf7f5a"}
}
},
{
"data": {"name": "ma"},
"mark": {"type": "line", "strokeWidth": 2, "interpolate": "monotone"},
"encoding": {
"x": {"field": "i", "type": "quantitative", "title": null},
"y": {"field": "p", "type": "quantitative", "title": null, "axis": {"orient": "right", "title": null, "grid": false, "values": [0.67175,0.67245,0.67315,0.67385,0.67455,0.67525,0.67595,0.67665,0.67735,0.67805,0.67875,0.67945,0.68015,0.68085,0.68155,0.68225,0.68295,0.68365,0.68435,0.68505,0.68575,0.68645,0.68715,0.68785,0.68855,0.68925,0.68995], "labelExpr": "abs(datum.value-0.67945)<0.000001 ? '' : format(datum.value,'.5f')", "labelPadding": 0, "labelFont": "Liberation Sans", "labelFontSize": 10, "labelColor": "#000000", "labelOverlap": false, "labelFlush": false, "tickSize": 3, "tickColor": "#000000", "domainColor": "#000000", "domainWidth": 1}},
"detail": {"field": "s", "type": "nominal"},
"color": {"field": "d", "type": "nominal", "legend": null, "scale": {"domain": ["up", "dn"], "range": ["#32cd32", "#db7093"]}}
}
},
{
"mark": {"type": "rect", "fill": "#000000"},
"encoding": {"x": {"datum": 467.2}, "x2": {"datum": 478.3},
"y": {"datum": 0.679551, "axis": {"orient": "right", "title": null, "grid": false, "values": [0.67175,0.67245,0.67315,0.67385,0.67455,0.67525,0.67595,0.67665,0.67735,0.67805,0.67875,0.67945,0.68015,0.68085,0.68155,0.68225,0.68295,0.68365,0.68435,0.68505,0.68575,0.68645,0.68715,0.68785,0.68855,0.68925,0.68995], "labelExpr": "abs(datum.value-0.67945)<0.000001 ? '' : format(datum.value,'.5f')", "labelPadding": 0, "labelFont": "Liberation Sans", "labelFontSize": 10, "labelColor": "#000000", "labelOverlap": false, "labelFlush": false, "tickSize": 3, "tickColor": "#000000", "domainColor": "#000000", "domainWidth": 1}},
"y2": {"datum": 0.679345}}
},
{
"mark": {"type": "text", "text": "0.67945", "align": "left", "baseline": "middle", "font": "Liberation Sans", "fontSize": 10, "color": "#ffffff"},
"encoding": {"x": {"datum": 467.55},
"y": {"datum": 0.67945, "axis": {"orient": "right", "title": null, "grid": false, "values": [0.67175,0.67245,0.67315,0.67385,0.67455,0.67525,0.67595,0.67665,0.67735,0.67805,0.67875,0.67945,0.68015,0.68085,0.68155,0.68225,0.68295,0.68365,0.68435,0.68505,0.68575,0.68645,0.68715,0.68785,0.68855,0.68925,0.68995], "labelExpr": "abs(datum.value-0.67945)<0.000001 ? '' : format(datum.value,'.5f')", "labelPadding": 0, "labelFont": "Liberation Sans", "labelFontSize": 10, "labelColor": "#000000", "labelOverlap": false, "labelFlush": false, "tickSize": 3, "tickColor": "#000000", "domainColor": "#000000", "domainWidth": 1}}}
},
{
"mark": {"type": "text", "text": "▼", "align": "left", "baseline": "alphabetic", "font": "DejaVu Sans", "fontSize": 9, "color": "#000000"},
"encoding": {"x": {"datum": -0.1},
"y": {"datum": 0.690197, "axis": {"orient": "right", "title": null, "grid": false, "values": [0.67175,0.67245,0.67315,0.67385,0.67455,0.67525,0.67595,0.67665,0.67735,0.67805,0.67875,0.67945,0.68015,0.68085,0.68155,0.68225,0.68295,0.68365,0.68435,0.68505,0.68575,0.68645,0.68715,0.68785,0.68855,0.68925,0.68995], "labelExpr": "abs(datum.value-0.67945)<0.000001 ? '' : format(datum.value,'.5f')", "labelPadding": 0, "labelFont": "Liberation Sans", "labelFontSize": 10, "labelColor": "#000000", "labelOverlap": false, "labelFlush": false, "tickSize": 3, "tickColor": "#000000", "domainColor": "#000000", "domainWidth": 1}}}
},
{
"mark": {"type": "text", "text": "AUDUSD,H1", "align": "left", "baseline": "alphabetic", "font": "Liberation Sans", "fontSize": 10, "color": "#000000"},
"encoding": {"x": {"datum": 3.75},
"y": {"datum": 0.690197, "axis": {"orient": "right", "title": null, "grid": false, "values": [0.67175,0.67245,0.67315,0.67385,0.67455,0.67525,0.67595,0.67665,0.67735,0.67805,0.67875,0.67945,0.68015,0.68085,0.68155,0.68225,0.68295,0.68365,0.68435,0.68505,0.68575,0.68645,0.68715,0.68785,0.68855,0.68925,0.68995], "labelExpr": "abs(datum.value-0.67945)<0.000001 ? '' : format(datum.value,'.5f')", "labelPadding": 0, "labelFont": "Liberation Sans", "labelFontSize": 10, "labelColor": "#000000", "labelOverlap": false, "labelFlush": false, "tickSize": 3, "tickColor": "#000000", "domainColor": "#000000", "domainWidth": 1}}}
},
{
"mark": {"type": "text", "text": "forex-station.com", "align": "left", "baseline": "alphabetic", "font": "Liberation Sans", "fontSize": 10, "color": "#101030"},
"encoding": {"x": {"datum": -0.25},
"y": {"datum": 0.690032, "axis": {"orient": "right", "title": null, "grid": false, "values": [0.67175,0.67245,0.67315,0.67385,0.67455,0.67525,0.67595,0.67665,0.67735,0.67805,0.67875,0.67945,0.68015,0.68085,0.68155,0.68225,0.68295,0.68365,0.68435,0.68505,0.68575,0.68645,0.68715,0.68785,0.68855,0.68925,0.68995], "labelExpr": "abs(datum.value-0.67945)<0.000001 ? '' : format(datum.value,'.5f')", "labelPadding": 0, "labelFont": "Liberation Sans", "labelFontSize": 10, "labelColor": "#000000", "labelOverlap": false, "labelFlush": false, "tickSize": 3, "tickColor": "#000000", "domainColor": "#000000", "domainWidth": 1}}}
},
{
"mark": {"type": "text", "text": "1.2", "align": "right", "baseline": "alphabetic", "font": "Liberation Sans", "fontSize": 28, "fontWeight": "bold", "color": "#7f7f7f"},
"encoding": {"x": {"datum": 465.25},
"y": {"datum": 0.689888, "axis": {"orient": "right", "title": null, "grid": false, "values": [0.67175,0.67245,0.67315,0.67385,0.67455,0.67525,0.67595,0.67665,0.67735,0.67805,0.67875,0.67945,0.68015,0.68085,0.68155,0.68225,0.68295,0.68365,0.68435,0.68505,0.68575,0.68645,0.68715,0.68785,0.68855,0.68925,0.68995], "labelExpr": "abs(datum.value-0.67945)<0.000001 ? '' : format(datum.value,'.5f')", "labelPadding": 0, "labelFont": "Liberation Sans", "labelFontSize": 10, "labelColor": "#000000", "labelOverlap": false, "labelFlush": false, "tickSize": 3, "tickColor": "#000000", "domainColor": "#000000", "domainWidth": 1}}}
},
{
"mark": {"type": "text", "text": ["Bar Left", "Sydney", "Tokyo"], "lineHeight": 10.85, "align": "right", "baseline": "alphabetic", "font": "Liberation Sans", "fontSize": 10, "color": "#8c8c8c"},
"encoding": {"x": {"datum": 449.7},
"y": {"datum": 0.689611, "axis": {"orient": "right", "title": null, "grid": false, "values": [0.67175,0.67245,0.67315,0.67385,0.67455,0.67525,0.67595,0.67665,0.67735,0.67805,0.67875,0.67945,0.68015,0.68085,0.68155,0.68225,0.68295,0.68365,0.68435,0.68505,0.68575,0.68645,0.68715,0.68785,0.68855,0.68925,0.68995], "labelExpr": "abs(datum.value-0.67945)<0.000001 ? '' : format(datum.value,'.5f')", "labelPadding": 0, "labelFont": "Liberation Sans", "labelFontSize": 10, "labelColor": "#000000", "labelOverlap": false, "labelFlush": false, "tickSize": 3, "tickColor": "#000000", "domainColor": "#000000", "domainWidth": 1}}}
},
{
"mark": {"type": "text", "text": ["* Berlin", "* London", "* New York"], "lineHeight": 10.85, "align": "right", "baseline": "alphabetic", "font": "Liberation Sans", "fontSize": 10, "color": "#ff1a1a"},
"encoding": {"x": {"datum": 449.7},
"y": {"datum": 0.688941, "axis": {"orient": "right", "title": null, "grid": false, "values": [0.67175,0.67245,0.67315,0.67385,0.67455,0.67525,0.67595,0.67665,0.67735,0.67805,0.67875,0.67945,0.68015,0.68085,0.68155,0.68225,0.68295,0.68365,0.68435,0.68505,0.68575,0.68645,0.68715,0.68785,0.68855,0.68925,0.68995], "labelExpr": "abs(datum.value-0.67945)<0.000001 ? '' : format(datum.value,'.5f')", "labelPadding": 0, "labelFont": "Liberation Sans", "labelFontSize": 10, "labelColor": "#000000", "labelOverlap": false, "labelFlush": false, "tickSize": 3, "tickColor": "#000000", "domainColor": "#000000", "domainWidth": 1}}}
},
{
"mark": {"type": "text", "text": ["[ 51:02 ]", "10:08 PM", "09:08 PM"], "lineHeight": 10.85, "align": "right", "baseline": "alphabetic", "font": "Liberation Sans", "fontSize": 10, "color": "#8c8c8c"},
"encoding": {"x": {"datum": 465.5},
"y": {"datum": 0.689611, "axis": {"orient": "right", "title": null, "grid": false, "values": [0.67175,0.67245,0.67315,0.67385,0.67455,0.67525,0.67595,0.67665,0.67735,0.67805,0.67875,0.67945,0.68015,0.68085,0.68155,0.68225,0.68295,0.68365,0.68435,0.68505,0.68575,0.68645,0.68715,0.68785,0.68855,0.68925,0.68995], "labelExpr": "abs(datum.value-0.67945)<0.000001 ? '' : format(datum.value,'.5f')", "labelPadding": 0, "labelFont": "Liberation Sans", "labelFontSize": 10, "labelColor": "#000000", "labelOverlap": false, "labelFlush": false, "tickSize": 3, "tickColor": "#000000", "domainColor": "#000000", "domainWidth": 1}}}
},
{
"mark": {"type": "text", "text": ["02:08 PM", "01:08 PM", "08:08 AM"], "lineHeight": 10.85, "align": "right", "baseline": "alphabetic", "font": "Liberation Sans", "fontSize": 10, "color": "#ff1a1a"},
"encoding": {"x": {"datum": 465.5},
"y": {"datum": 0.688941, "axis": {"orient": "right", "title": null, "grid": false, "values": [0.67175,0.67245,0.67315,0.67385,0.67455,0.67525,0.67595,0.67665,0.67735,0.67805,0.67875,0.67945,0.68015,0.68085,0.68155,0.68225,0.68295,0.68365,0.68435,0.68505,0.68575,0.68645,0.68715,0.68785,0.68855,0.68925,0.68995], "labelExpr": "abs(datum.value-0.67945)<0.000001 ? '' : format(datum.value,'.5f')", "labelPadding": 0, "labelFont": "Liberation Sans", "labelFontSize": 10, "labelColor": "#000000", "labelOverlap": false, "labelFlush": false, "tickSize": 3, "tickColor": "#000000", "domainColor": "#000000", "domainWidth": 1}}}
},
{
"mark": {"type": "text", "text": "ATR (20): 15 pips", "align": "right", "baseline": "alphabetic", "font": "Liberation Sans", "fontSize": 10, "color": "#8c8c8c"},
"encoding": {"x": {"datum": 465.4},
"y": {"datum": 0.688272, "axis": {"orient": "right", "title": null, "grid": false, "values": [0.67175,0.67245,0.67315,0.67385,0.67455,0.67525,0.67595,0.67665,0.67735,0.67805,0.67875,0.67945,0.68015,0.68085,0.68155,0.68225,0.68295,0.68365,0.68435,0.68505,0.68575,0.68645,0.68715,0.68785,0.68855,0.68925,0.68995], "labelExpr": "abs(datum.value-0.67945)<0.000001 ? '' : format(datum.value,'.5f')", "labelPadding": 0, "labelFont": "Liberation Sans", "labelFontSize": 10, "labelColor": "#000000", "labelOverlap": false, "labelFlush": false, "tickSize": 3, "tickColor": "#000000", "domainColor": "#000000", "domainWidth": 1}}}
}
]
}
